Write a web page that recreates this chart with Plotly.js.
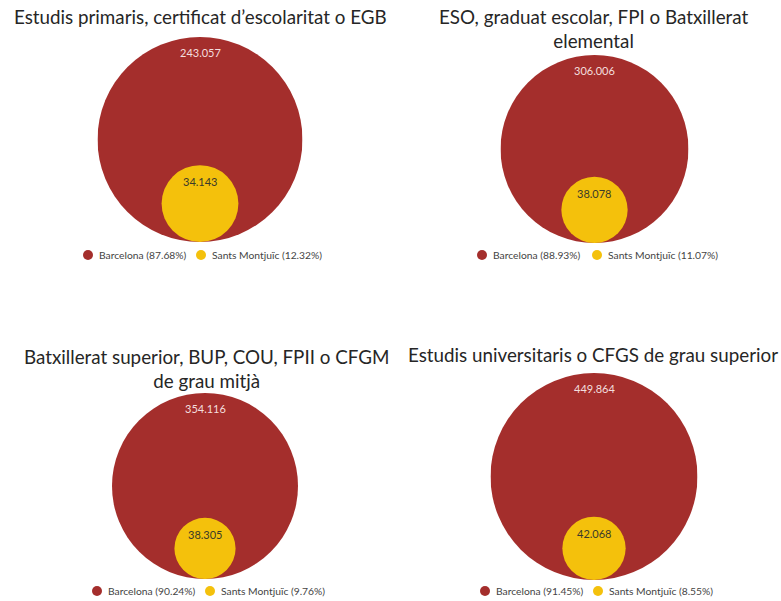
<!DOCTYPE html>
<html>
<head>
<meta charset="utf-8">
<script src="https://cdn.plot.ly/plotly-3.0.1.min.js"></script>
<style>
  html, body { margin: 0; padding: 0; background: #ffffff; }
  #chart { width: 781px; height: 601px; }
</style>
</head>
<body>
<div id="chart"></div>
<script>
// ---- data ----
const categories = [
  'Estudis primaris, certificat d’escolaritat o EGB',
  'ESO, graduat escolar, FPI o Batxillerat<br>elemental',
  'Batxillerat superior, BUP, COU, FPII o CFGM<br>de grau mitjà',
  'Estudis universitaris o CFGS de grau superior'
];
const seriesNames = ['Barcelona', 'Sants Montjuïc'];
const barcelona = [243057, 306006, 354116, 449864];
const santsMontjuic = [34143, 38078, 38305, 42068];

// ---- layout helpers (pixel geometry, not data) ----
const W = 781, H = 601;
const colors = ['#a42e2c', '#f4c10c'];
// circle boxes [cx, top, bottom] in pixels
const boxes = [
  [200, 37, 242],
  [594.5, 55, 243],
  [205, 393, 579],
  [594, 373, 580]
];
const titlePos = [[200, 17], [593, 29], [206, 368], [593, 354]];
// legend: [y, dot1 x, dot2 x] in pixels
const legendPos = [[255, 88, 201], [255, 482, 597], [591, 97, 210], [591, 485, 598]];

function fmt(n) { return String(n).replace(/\B(?=(\d{3})+(?!\d))/g, '.'); }

const data = [];
const shapes = [];
const annotations = [];
const layout = {
  width: W, height: H,
  margin: { l: 0, r: 0, t: 0, b: 0 },
  paper_bgcolor: '#ffffff', plot_bgcolor: 'rgba(0,0,0,0)',
  font: { family: 'Lato, sans-serif', color: '#333' },
  hovermode: false,
  showlegend: false,
  shapes: shapes,
  annotations: annotations
};

categories.forEach((cat, i) => {
  const k = i === 0 ? '' : String(i + 1);
  const xa = 'x' + k, ya = 'y' + k;
  const R = Math.sqrt(barcelona[i]);
  const r = Math.sqrt(santsMontjuic[i]);
  const [cx, top, bottom] = boxes[i];
  const half = (bottom - top) / 2;
  layout['xaxis' + k] = {
    domain: [(cx - half) / W, (cx + half) / W],
    range: [-R, R], visible: false, fixedrange: true
  };
  layout['yaxis' + k] = {
    domain: [1 - bottom / H, 1 - top / H],
    range: [0, 2 * R], visible: false, fixedrange: true
  };
  // invisible trace so the axes exist
  data.push({ type: 'scatter', mode: 'markers', x: [null], y: [null], xaxis: xa, yaxis: ya,
    showlegend: false, hoverinfo: 'skip' });
  // big circle (Barcelona)
  shapes.push({ type: 'circle', xref: xa, yref: ya, x0: -R, x1: R, y0: 0, y1: 2 * R,
    fillcolor: colors[0], line: { width: 0 }, layer: 'below' });
  // small circle (Sants Montjuïc), tangent at bottom
  shapes.push({ type: 'circle', xref: xa, yref: ya, x0: -r, x1: r, y0: 0, y1: 2 * r,
    fillcolor: colors[1], line: { width: 0 }, layer: 'below' });
  // value labels
  annotations.push({ xref: xa, yref: ya, x: 0, y: 2 * R, yanchor: 'top', yshift: -7,
    text: fmt(barcelona[i]), showarrow: false,
    font: { family: 'Lato, sans-serif', size: 11, color: '#f3dede' } });
  annotations.push({ xref: xa, yref: ya, x: 0, y: 2 * r, yanchor: 'top', yshift: -8,
    text: fmt(santsMontjuic[i]), showarrow: false,
    font: { family: 'Lato, sans-serif', size: 11, color: '#3a3a2a' } });
  // title
  annotations.push({ xref: 'paper', yref: 'paper',
    x: titlePos[i][0] / W, y: 1 - titlePos[i][1] / H, xanchor: 'center', yanchor: 'middle',
    text: cat, showarrow: false,
    font: { family: 'Lato, sans-serif', size: 18.8, weight: 400, color: '#262626' } });
  // legend (built from the data)
  const total = barcelona[i] + santsMontjuic[i];
  const pcts = [barcelona[i] / total * 100, santsMontjuic[i] / total * 100];
  const [ly, d1, d2] = legendPos[i];
  [d1, d2].forEach((dx, j) => {
    shapes.push({ type: 'circle', xref: 'paper', yref: 'paper',
      xsizemode: 'pixel', ysizemode: 'pixel',
      xanchor: dx / W, yanchor: 1 - ly / H,
      x0: -5, x1: 5, y0: -5, y1: 5,
      fillcolor: colors[j], line: { width: 0 } });
    annotations.push({ xref: 'paper', yref: 'paper',
      x: (dx + 9) / W, y: 1 - ly / H, xanchor: 'left', yanchor: 'middle',
      text: seriesNames[j] + ' (' + pcts[j].toFixed(2) + '%)', showarrow: false,
      font: { family: 'Lato, sans-serif', size: 10.3, color: '#444' } });
  });
});

Plotly.newPlot('chart', data, layout, { displayModeBar: false, staticPlot: true });
</script>
</body>
</html>
